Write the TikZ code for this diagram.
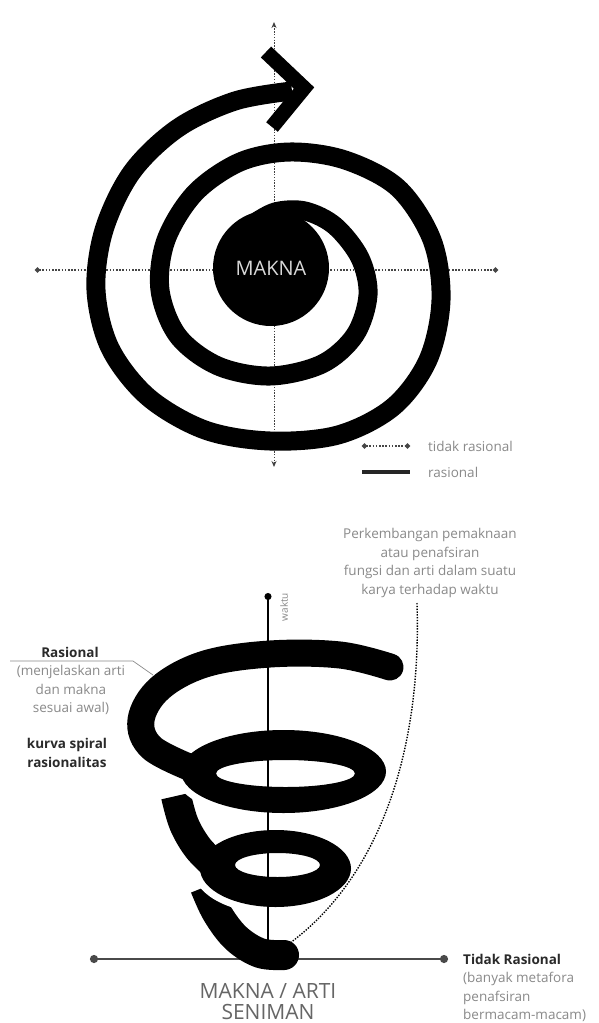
\documentclass[tikz,border=0pt]{standalone}
\usepackage{fontspec}
\setmainfont{Open Sans}
\setsansfont{Open Sans}
\usetikzlibrary{arrows.meta}
\definecolor{txtgray}{HTML}{8A8A8A}
\definecolor{darktxt}{HTML}{2A2A2A}
\definecolor{axisgray}{HTML}{4A4A4A}
\begin{document}
\begin{tikzpicture}[x=1pt,y=-1pt,
  spiralline/.style={line width=19pt, black},
  helixline/.style={line width=27pt, black},
  axisdot/.style={dash pattern=on 1.6pt off 1.6pt, line width=1.5pt, gray!55!black},
  dotend/.style={{Circle[length=5pt]}-{Circle[length=5pt]}},
  halo/.style={white, line width=14pt},
  smalltxt/.style={font=\fontsize{13.5}{18.5}\selectfont, text=txtgray, inner sep=0pt},
  boldtxt/.style={font=\fontsize{13.5}{18.5}\selectfont\bfseries, text=darktxt, inner sep=0pt},
  bigtxt/.style={font=\fontsize{21}{24}\selectfont, text=gray!80!black, inner sep=0pt},
]
\useasboundingbox[fill=white] (0,0) rectangle (598,1023);

%================ TOP DIAGRAM ================
\coordinate (hL) at (35,270);
\coordinate (hR) at (498,270);
\coordinate (vT) at (274,22);
\coordinate (vB) at (274,467);
\draw[axisdot, dotend] (hL) -- (hR);
\draw[dash pattern=on 1.4pt off 1.4pt, line width=1pt, gray!50!black,
  {Stealth[length=6pt,width=5pt]}-{Stealth[length=6pt,width=5pt]}] (vT) -- (vB);

% spiral
\draw[spiralline] plot[smooth, tension=0.55] coordinates {
 (250,226) (275,212) (305,211) (335,226) (360,258) (368,295) (355,335) (322,364)
 (270,376) (218,366) (178,336) (160,290) (166,240) (195,193) (240,162)
 (290,152) (345,160) (398,188) (432,240) (441,300) (428,360) (393,407)
 (338,435) (270,441) (205,430) (148,397) (110,348) (96,290) (104,230)
 (132,172) (178,128) (235,101) (292,91)};
% arrow head
\coordinate (chU) at (266,52);
\coordinate (chT) at (304,88);
\coordinate (chD) at (272,127);
\draw[line width=15pt, miter limit=10] (chU) -- (chT) -- (chD);

\node[circle, fill=black, minimum size=116pt, inner sep=0pt,
  font=\fontsize{20}{24}\selectfont, text=white!85!black] (makna) at (271,268) {MAKNA};

% legend
\coordinate (l1a) at (362,446);
\coordinate (l1b) at (410,446);
\coordinate (l2a) at (362,472);
\coordinate (l2b) at (410,472);
\draw[axisdot, dotend] (l1a) -- (l1b);
\draw[line width=4pt, black!85] (l2a) -- (l2b);
\node[smalltxt, anchor=west] (legtr) at (428,446) {tidak rasional};
\node[smalltxt, anchor=west] (legr) at (428,472) {rasional};

%================ BOTTOM DIAGRAM ================
\coordinate (bL) at (90,959);
\coordinate (bR) at (448,959);
\draw[line width=2.5pt, axisgray, {Circle[length=8pt]}-{Circle[length=8pt]}] (bL) -- (bR);

% lowest piece
\draw[line width=30pt] plot[smooth, tension=0.6] coordinates {
 (205,887) (217,913) (236,938) (260,953) (284,955)};
\fill (284,955) circle[radius=15];
% back piece between ring 2 and ring 3
\draw[line width=30pt] plot[smooth, tension=0.6] coordinates {
 (176,796) (184,824) (198,848) (216,866)};
% white gaps
\draw[halo] plot[domain=105:170, samples=30] ({275.5+75.5*cos(\x)},{868.5+38.5*sin(\x)});
\draw[halo] plot[domain=115:178, samples=30] ({283.5+102.5*cos(\x)},{771.5+41.5*sin(\x)});
% ring 3
\fill[even odd rule] (275.5,868.5) ellipse[x radius=75.5, y radius=38.5]
                     (277.5,865) ellipse[x radius=42.5, y radius=12];
% ring 2
\fill[even odd rule] (283.5,771.5) ellipse[x radius=102.5, y radius=41.5]
                     (285.5,773.5) ellipse[x radius=69.5, y radius=13.5];
% top C
\draw[helixline, line cap=round] plot[smooth, tension=0.6] coordinates {
 (390,667) (340,655) (270,654) (205,664) (160,688) (141,720) (152,748) (196,770)};

% vertical axis (time)
\coordinate (tB) at (268,959);
\coordinate (tT) at (268,593);
\draw[line width=1.2pt, -{Circle[length=7pt]}] (tB) -- (tT);
\node[rotate=90, font=\fontsize{10}{10}\selectfont, text=txtgray, inner sep=0pt] (waktu) at (284,607) {waktu};

% dotted development curve
\coordinate (dA) at (417,603);
\coordinate (dB) at (290,943);
\draw[dash pattern=on 1.4pt off 1.4pt, line width=1.4pt] (dA) .. controls (422,760) and (375,880) .. (dB);

% texts
\node[smalltxt, align=center] (perk) at (430,563)
  {Perkembangan pemaknaan\\atau penafsiran\\fungsi dan arti dalam suatu\\karya terhadap waktu};

\node[boldtxt] (ras) at (70,652) {Rasional};
\node[smalltxt, align=center] (rasdesc) at (71,690) {(menjelaskan arti\\dan makna\\sesuai awal)};
\node[boldtxt, align=center] (kurva) at (67,753) {kurva spiral\\rasionalitas};
\coordinate (ld1) at (10,661);
\coordinate (ld2) at (133,661);
\coordinate (ld3) at (153,675);
\draw[txtgray, line width=0.7pt] (ld1) -- (ld2) -- (ld3);

\node[boldtxt, anchor=west] (tidak) at (463,959) {Tidak Rasional};
\node[smalltxt, anchor=west, align=left] (tidakdesc) at (463,997)
  {(banyak metafora\\penafsiran\\bermacam-macam)};

\node[bigtxt, anchor=base] (makarti) at (268,998) {MAKNA / ARTI};
\node[bigtxt, anchor=base] (seniman) at (268,1019) {SENIMAN};
\end{tikzpicture}
\end{document}
